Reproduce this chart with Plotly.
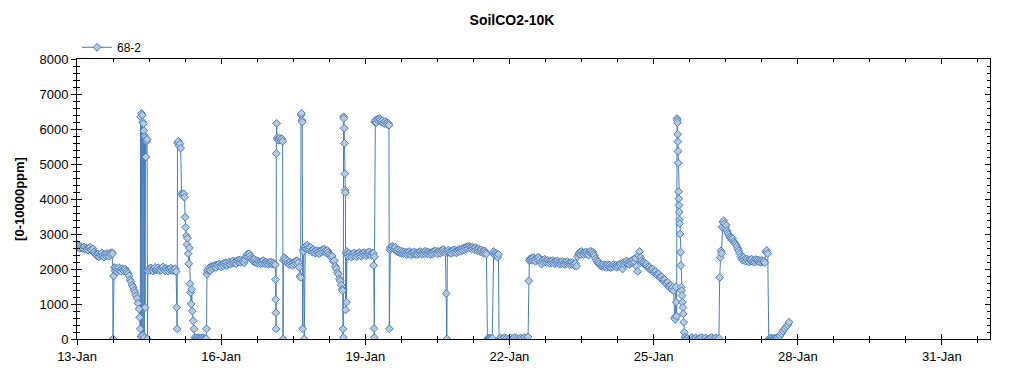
import numpy as np
import pandas as pd
import plotly.graph_objects as go

# ---------------- data ----------------
START = pd.Timestamp("2015-01-13 00:00")
X_END = pd.Timestamp("2015-02-01 00:00")
TITLE = "SoilCO2-10K"
SERIES_NAME = "68-2"
Y_TITLE = "[0-10000ppm]"
Y_RANGE = [0, 8000]

# Regular half-hourly / hourly runs: (first hour after START, step in hours, values in ppm)
run_a = (0.0, 0.5, [2700, 2620, 2660, 2590, 2640, 2600, 2580, 2630, 2560, 2610, 2570, 2540,
                    2600, 2620, 2550, 2520, 2580, 2490, 2440, 2400, 2370, 2430, 2350, 2410,
                    2380, 2460, 2390, 2340, 2420, 2370, 2440, 2390, 2360, 2450, 2410, 2470])
drop_1_hours = [17.8, 18.0, 18.3, 18.6]
drop_1_ppm = [2440, 0, 1800, 2040]
run_b = (19.0, 0.5, [1950, 2020, 1920, 1990, 2040, 1960, 1930, 2010, 1970, 1940, 2000, 1950,
                     1910, 1870, 1800, 1690, 1640, 1540, 1480, 1390, 1330, 1240, 1160, 1020])
spike_1_hours = [31.0, 31.3, 31.6, 31.8, 32.0, 32.2, 32.4, 32.6, 32.8, 33.0, 33.2, 33.4, 33.6,
                 33.8, 34.0, 34.2, 34.4, 34.6, 34.8, 35.0, 35.2, 35.4]
spike_1_ppm = [860, 620, 290, 6350, 80, 6450, 50, 6400, 6200, 100, 6150, 5950, 40,
               5800, 900, 5750, 5200, 5700, 5650, 5700, 0, 1950]
run_c = (36.0, 0.5, [2010, 1960, 2030, 1980, 1940, 2000, 2050, 1970, 1990, 2040, 1960, 2010,
                     1970, 2030, 2060, 1990, 1950, 2020, 1980, 1940, 2000, 1970, 2030, 1960,
                     1990, 1950, 2010, 1930])
spike_2_hours = [49.8, 50.0, 50.2, 50.6, 51.0, 51.4, 51.8, 52.2, 52.6, 53.0, 53.3, 53.7, 54.0,
                 54.3, 54.6, 54.9, 55.2, 55.5, 55.8, 56.1, 56.4, 56.7, 57.0, 57.3, 57.6, 58.0,
                 58.4, 58.8]
spike_2_ppm = [900, 290, 5600, 5650, 5520, 5580, 5450, 4150, 4120, 4080, 4150, 4050, 3480,
               3190, 2950, 2700, 2880, 2440, 2150, 2600, 1580, 1330, 1000, 1420, 800, 520,
               290, 40]
run_d = (59.5, 0.5, [30, 10, 40, 20, 0, 30, 10, 40, 20, 0, 10])
rise_1_hours = [64.7, 64.9, 65.2]
rise_1_ppm = [290, 1850, 1950]
run_e = (65.5, 0.5, [1990, 2040, 1960, 2070, 2010, 2090, 2050, 2110, 2040, 2120, 2080, 2150,
                     2100, 2060, 2140, 2090, 2170, 2120, 2180, 2100, 2150, 2200, 2130, 2190,
                     2160, 2230, 2170, 2210, 2150, 2240, 2200, 2260, 2190, 2250, 2210, 2230,
                     2180, 2270, 2360, 2420, 2350, 2440, 2380, 2310, 2260, 2220, 2280, 2190,
                     2240, 2170, 2230, 2200, 2150, 2210, 2160, 2240, 2180, 2150, 2200, 2170,
                     2130, 2190, 2160, 2200, 2140, 2180, 2150, 2120])
spike_3_hours = [99.15, 99.25, 99.35, 99.45, 99.55, 99.7, 99.9, 100.3, 100.8, 101.3, 101.8,
                 102.3, 102.7, 102.9, 103.1]
spike_3_ppm = [1700, 1130, 750, 290, 5300, 6160, 5750, 5700, 5680, 5740, 5690, 5720, 5650,
               0, 2250]
run_f = (103.5, 0.5, [2330, 2280, 2200, 2240, 2170, 2120, 2200, 2150, 2100, 2180, 2130, 2220,
                      2160, 2240, 2180, 2050])
spike_4_hours = [111.4, 111.7, 111.9, 112.1, 112.3, 112.5, 112.7, 112.9, 113.2, 113.5, 113.7]
spike_4_ppm = [1800, 1760, 6400, 6450, 6250, 6200, 290, 2550, 2500, 0, 2600]
run_g = (114.0, 0.5, [2640, 2580, 2680, 2600, 2550, 2620, 2520, 2480, 2560, 2500, 2450, 2530,
                      2470, 2510, 2440, 2520, 2480, 2550, 2500, 2570, 2520, 2460, 2530, 2480,
                      2420, 2380, 2330, 2370, 2220, 2240, 2080, 2010, 1900, 1850, 1720, 1660,
                      1540, 1420])
spike_5_hours = [132.7, 132.85, 133.0, 133.15, 133.3, 133.45, 133.6, 133.75, 133.9, 134.05,
                 134.2, 134.4, 134.6, 134.8, 135.0]
spike_5_ppm = [1380, 290, 40, 6350, 6300, 6020, 5590, 4720, 4250, 4180, 830, 2450, 1050,
               2500, 2420]
run_h = (135.5, 0.5, [2360, 2450, 2390, 2340, 2430, 2380, 2460, 2400, 2350, 2440, 2380, 2470,
                      2410, 2360, 2450, 2400, 2470, 2420, 2380, 2460, 2410, 2490, 2420, 2380,
                      2450])
spike_6_hours = [148.0, 148.2, 148.35, 148.5, 148.6, 148.75, 149.0, 149.5, 150.0, 150.5,
                 151.0, 151.5, 152.0, 152.5, 153.0, 153.5, 154.0, 154.5, 155.0, 155.5,
                 155.8, 156.0, 156.2, 156.5]
spike_6_ppm = [2450, 2100, 300, 40, 2350, 6200, 6250, 6180, 6280, 6230, 6300, 6260, 6200,
               6240, 6180, 6150, 6220, 6170, 6130, 6160, 6110, 290, 2550, 2620]
run_i = (157.0, 0.5, [2580, 2650, 2600, 2560, 2620, 2540, 2490, 2550, 2470, 2520, 2450, 2500,
                      2440, 2490, 2460, 2410, 2480, 2430, 2500, 2450, 2400, 2470, 2430, 2490,
                      2420, 2460, 2410, 2480, 2440, 2500, 2450, 2420, 2480, 2440, 2510, 2460,
                      2430, 2490, 2450, 2410, 2470, 2430, 2500, 2460, 2520, 2470, 2440, 2510,
                      2480, 2450, 2530, 2490, 2560, 2500, 2460])
drop_2_hours = [184.4, 184.7, 185.0]
drop_2_ppm = [1300, 0, 2480]
run_j = (185.5, 0.5, [2540, 2470, 2510, 2450, 2530, 2480, 2550, 2500, 2460, 2530, 2490, 2560,
                      2510, 2570, 2530, 2600, 2550, 2620, 2580, 2640, 2590, 2650, 2610, 2570,
                      2630, 2590, 2550, 2610, 2560, 2520, 2580, 2530, 2490, 2550, 2500, 2450,
                      2520, 2470, 2430])
gap_1_hours = [205.0, 205.4, 205.8, 206.2, 206.6, 207.0, 207.4, 207.8, 208.1, 208.5, 208.9,
               209.3, 209.7, 210.1, 210.5, 210.8]
gap_1_ppm = [0, 20, 0, 30, 10, 0, 20, 2450, 2500, 2430, 2380, 2450, 2400, 2340, 2420, 0]
run_k = (211.5, 1.0, [30, 10, 40, 20, 0, 30, 10, 40, 20, 0, 30, 10, 40, 20])
rise_2_hours = [225.3, 225.6, 225.9, 226.2]
rise_2_ppm = [60, 1660, 2240, 2290]
run_l = (226.5, 0.5, [2260, 2310, 2250, 2330, 2270, 2220, 2300, 2260, 2340, 2280, 2200, 2140,
                      2250, 2190, 2280, 2230, 2180, 2250, 2200, 2160, 2230, 2180, 2240, 2190,
                      2150, 2220, 2170, 2230, 2180, 2140, 2210, 2160, 2220, 2170, 2130, 2200,
                      2150, 2210, 2160, 2120, 2180, 2130, 2190, 2140, 2100, 2160, 2080, 2350,
                      2430, 2480, 2420, 2500, 2450, 2410, 2470, 2430, 2490, 2440, 2400, 2480,
                      2510, 2450, 2490, 2430, 2380, 2300, 2240, 2180, 2210])
run_m = (261.0, 0.5, [2150, 2090, 2130, 2070, 2120, 2060, 2100, 2050, 2120, 2070, 2110, 2040,
                      2090, 2060, 2130, 2080, 2110, 2050, 2100, 2070, 2140, 2090, 2150, 2000,
                      2190, 2120, 2170, 2230, 2150, 2200, 2130, 2180, 2240, 2190, 2270, 2200,
                      2310, 2080, 1930, 2380, 2500, 2330, 2240, 2190, 2150, 2180, 2120, 2140,
                      2060, 2020, 2050, 1990, 1960, 2000, 1920, 1880, 1930, 1850, 1810, 1860,
                      1770, 1730, 1780, 1690, 1650, 1700, 1600, 1560, 1620, 1510, 1470, 1530,
                      1420, 1480, 1380])
spike_7_hours = [298.5, 298.8, 299.1, 299.3, 299.5, 299.7, 299.8, 299.9, 300.0, 300.1, 300.2,
                 300.3, 300.5, 300.6, 300.7, 300.8, 300.9, 301.0, 301.2, 301.4, 301.6, 301.8,
                 302.0, 302.2, 302.4, 302.6, 302.8, 303.0, 303.3, 303.6, 304.0]
spike_7_ppm = [610, 560, 1480, 1050, 650, 6300, 6250, 6180, 5850, 5640, 5360, 5030, 4210,
               4010, 3820, 3630, 3400, 3300, 3000, 2480, 2100, 1480, 1380, 1240, 1050, 900,
               720, 480, 190, 50, 0]
run_n = (305.0, 1.0, [20, 0, 40, 10, 30, 0, 20, 40, 10, 30, 0, 20, 40, 10, 30, 0])
rise_3_hours = [320.6, 321.0, 321.3, 321.6, 321.9, 322.2, 322.6, 323.0, 323.4, 323.8, 324.2,
                324.6, 325.0, 325.5, 326.0, 326.5, 327.0, 327.5, 328.0, 328.5, 329.0, 329.5,
                330.0, 330.5, 331.0, 331.5]
rise_3_ppm = [20, 1760, 2330, 2520, 2450, 3200, 3340, 3380, 3300, 3180, 3250, 3100, 3030,
              2980, 2920, 2880, 2830, 2870, 2780, 2740, 2700, 2650, 2580, 2520, 2440, 2360]
run_o = (332.0, 0.5, [2300, 2250, 2330, 2270, 2220, 2290, 2240, 2200, 2270, 2230, 2280, 2210,
                      2250, 2200, 2270, 2220, 2260, 2210, 2240, 2190, 2250, 2210, 2230, 2180,
                      2490, 2530, 2440])
tail_hours = [345.5, 346.0, 346.5, 347.0, 347.5, 348.0, 348.5, 349.0, 349.5, 350.2, 351.0,
              351.8, 352.6, 353.4, 354.2, 355.0, 355.6]
tail_ppm = [0, 20, 0, 30, 10, 0, 20, 10, 30, 60, 90, 150, 230, 290, 350, 400, 480]


def run(r):
    start, step, vals = r
    return [start + step * i for i in range(len(vals))], list(vals)


segments = [
    run(run_a), (drop_1_hours, drop_1_ppm), run(run_b), (spike_1_hours, spike_1_ppm),
    run(run_c), (spike_2_hours, spike_2_ppm), run(run_d), (rise_1_hours, rise_1_ppm),
    run(run_e), (spike_3_hours, spike_3_ppm), run(run_f), (spike_4_hours, spike_4_ppm),
    run(run_g), (spike_5_hours, spike_5_ppm), run(run_h), (spike_6_hours, spike_6_ppm),
    run(run_i), (drop_2_hours, drop_2_ppm), run(run_j), (gap_1_hours, gap_1_ppm),
    run(run_k), (rise_2_hours, rise_2_ppm), run(run_l), run(run_m),
    (spike_7_hours, spike_7_ppm), run(run_n), (rise_3_hours, rise_3_ppm), run(run_o),
    (tail_hours, tail_ppm),
]

hours = []
ppm = []
for h, v in segments:
    assert len(h) == len(v)
    hours += list(h)
    ppm += list(v)

times = START + pd.to_timedelta(np.array(hours), unit="h")

# ---------------- styling ----------------
FONT = "Liberation Sans, Arial, sans-serif"
LINE_BLUE = "#4a7ebb"
MARKER_FILL = "#b7cadb"
DAY_MS = 86400000
W, H = 1024, 375
PAGE_OFFSET = 8  # default body margin of the html page

fig = go.Figure()
fig.add_trace(go.Scatter(
    x=times, y=ppm, name=SERIES_NAME, mode="lines+markers",
    line=dict(color=LINE_BLUE, width=1),
    marker=dict(symbol="diamond", size=6, color=MARKER_FILL,
                line=dict(color=LINE_BLUE, width=1)),
))
# empty helper traces so the overlay axes (inner tick marks) are drawn
for xa, ya in [("x2", "y"), ("x3", "y"), ("x", "y2"), ("x", "y3")]:
    fig.add_trace(go.Scatter(x=[], y=[], xaxis=xa, yaxis=ya, showlegend=False,
                             hoverinfo="skip"))

base = dict(showgrid=False, zeroline=False, linecolor="black", linewidth=1,
            tickcolor="black", tickwidth=1, automargin=False)
xdate = dict(type="date", range=[START, X_END], tick0=START, dtick=3 * DAY_MS,
             tickformat="%-d-%b")
xminor = dict(dtick=18 * 3600000, tick0=START, ticklen=3, tickcolor="black")
yminor = dict(dtick=200, ticklen=3, tickcolor="black")
ybase = dict(range=Y_RANGE, dtick=1000, tick0=0)

fig.update_layout(
    width=W, height=H,
    margin=dict(l=77 - PAGE_OFFSET, r=W - 990 + PAGE_OFFSET,
                t=59 - PAGE_OFFSET, b=H - 339 + PAGE_OFFSET),
    paper_bgcolor="white", plot_bgcolor="white",
    font=dict(family=FONT, size=13, color="black"),
    title=dict(text="<b>" + TITLE + "</b>", xref="container",
               x=(512 - PAGE_OFFSET) / W, xanchor="center",
               yref="container", y=1 - (20 - PAGE_OFFSET) / H, yanchor="middle",
               font=dict(size=14, family=FONT)),
    showlegend=True,
    legend=dict(orientation="h", x=0, xanchor="left", y=0.99, yanchor="bottom",
                font=dict(size=12, family=FONT), bgcolor="rgba(0,0,0,0)"),
    xaxis=dict(**base, **xdate, ticks="outside", ticklen=5, showline=True,
               minor=dict(ticks="outside", **xminor), tickfont=dict(size=13)),
    xaxis2=dict(**base, **xdate, overlaying="x", anchor="y", side="bottom",
                ticks="inside", ticklen=5, showline=False, showticklabels=False,
                minor=dict(ticks="inside", **xminor)),
    xaxis3=dict(**base, **xdate, overlaying="x", anchor="y", side="top",
                ticks="inside", ticklen=5, showline=True, showticklabels=False,
                minor=dict(ticks="inside", **xminor)),
    yaxis=dict(**base, **ybase, ticks="outside", ticklen=5, showline=True,
               minor=dict(ticks="outside", **yminor), tickfont=dict(size=13),
               title=dict(text="<b>" + Y_TITLE + "</b>", font=dict(size=13), standoff=11)),
    yaxis2=dict(**base, **ybase, overlaying="y", anchor="x", side="left",
                ticks="inside", ticklen=5, showline=False, showticklabels=False,
                minor=dict(ticks="inside", **yminor)),
    yaxis3=dict(**base, **ybase, overlaying="y", anchor="x", side="right",
                ticks="inside", ticklen=5, showline=True, showticklabels=False,
                minor=dict(ticks="inside", **yminor)),
)

fig.write_html("out.html")
